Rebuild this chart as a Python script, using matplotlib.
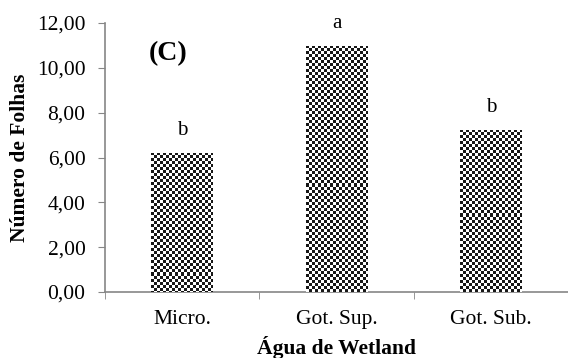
import numpy as np
import matplotlib
matplotlib.use('Agg')
import matplotlib.pyplot as plt

# Data.
categories = ['Micro.', 'Got. Sup.', 'Got. Sub.']
values = [6.22, 10.98, 7.23]
letters = ['b', 'a', 'b']
yticks = [0, 2, 4, 6, 8, 10, 12]

plt.rcParams['font.family'] = ['Liberation Serif', 'DejaVu Serif']

fig = plt.figure(figsize = (5.68, 3.58), dpi = 100)
ax = fig.add_axes([105 / 568, 1 - 292 / 358, 463 / 568, 269 / 358])

x = np.arange(len(categories))
bars = ax.bar(x, values, width = 0.4, color = 'white', edgecolor = 'none', zorder = 2)

ax.set_xlim(-0.5, 2.5)
ax.set_ylim(0, 12)

# Checkerboard fill, clipped to each bar.
fig.canvas.draw()
cell = 3  # pixels
for bar in bars:
   x0, y0 = bar.get_x(), bar.get_y()
   w, h = bar.get_width(), bar.get_height()
   p0 = ax.transData.transform((x0, y0))
   p1 = ax.transData.transform((x0 + w, y0 + h))
   nx = int(np.ceil(abs(p1[0] - p0[0]) / cell))
   ny = int(np.ceil(abs(p1[1] - p0[1]) / cell))
   ii, jj = np.indices((ny, nx))
   board = ((ii + jj) % 2).astype(float)
   im = ax.imshow(board, cmap = 'gray', vmin = -0.1, vmax = 1, interpolation = 'nearest',
                  extent = (x0, x0 + nx * cell * w / abs(p1[0] - p0[0]), y0 + h, y0 + h - ny * cell * h / abs(p1[1] - p0[1])),
                  aspect = 'auto', zorder = 3, origin = 'upper')
   im.set_clip_path(bar)

# Significance letters above bars.
for xi, v, lab in zip(x, values, letters):
   ax.text(xi, v + 1.0, lab, ha = 'center', va = 'center', fontsize = 15)

ax.text(-0.09, 10.62, '(C)', ha = 'center', va = 'center', fontsize = 20, fontweight = 'bold')

ax.set_yticks(yticks)
ax.set_yticklabels([f'{t:.2f}'.replace('.', ',') for t in yticks], fontsize = 15.5)
ax.set_xticks([-0.5, 0.5, 1.5, 2.5], minor = True)
ax.set_xticks(x)
ax.set_xticklabels(categories, fontsize = 15.5)
ax.tick_params(axis = 'x', which = 'major', length = 0, pad = 13)
ax.tick_params(axis = 'x', which = 'minor', length = 5, color = '#868686', direction = 'out')
ax.tick_params(axis = 'y', length = 5, color = '#868686', direction = 'out', pad = 9)

for side in ['top', 'right']:
   ax.spines[side].set_visible(False)
for side in ['left', 'bottom']:
   ax.spines[side].set_color('#868686')
   ax.spines[side].set_linewidth(1.2)

ax.set_ylabel('Número de Folhas', fontsize = 15.5, fontweight = 'bold', labelpad = 5)
ax.set_xlabel('Água de Wetland', fontsize = 15.5, fontweight = 'bold', labelpad = 5)

fig.savefig('out.png', dpi = 100)
